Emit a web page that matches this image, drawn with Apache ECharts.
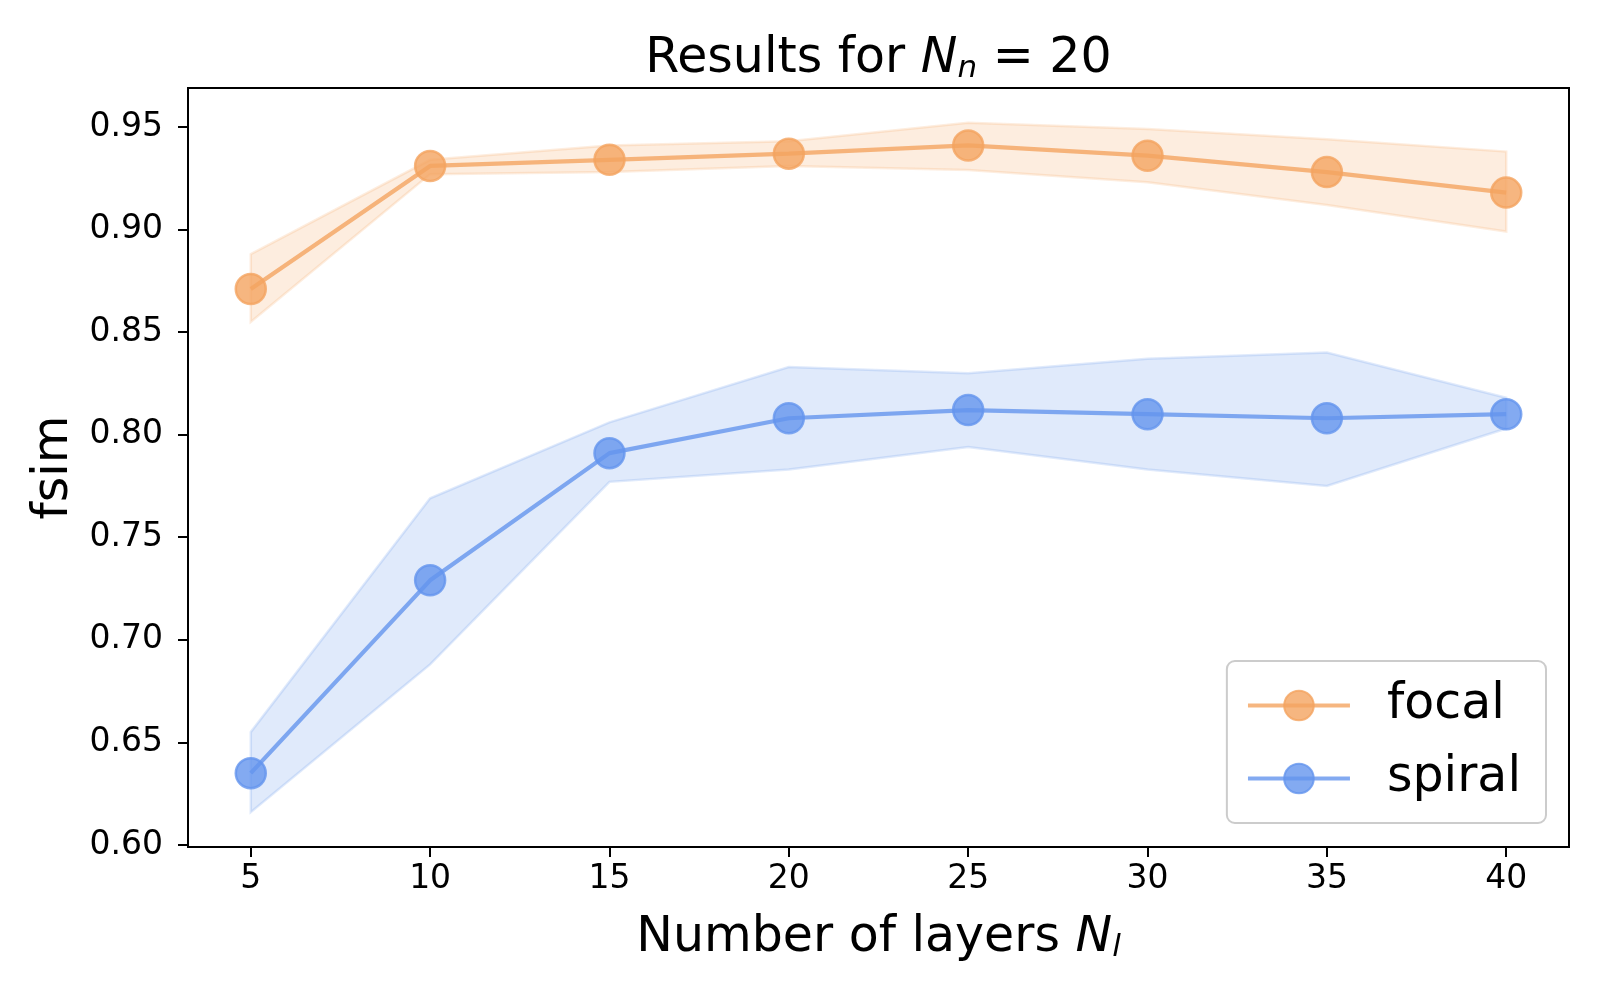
<!DOCTYPE html>
<html>
<head>
<meta charset="utf-8">
<script src="https://cdn.jsdelivr.net/npm/echarts@6/dist/echarts.min.js"></script>
<style>
  html, body { margin: 0; padding: 0; background: #ffffff; }
  #chart { width: 1600px; height: 1000px; }
</style>
</head>
<body>
<div id="chart"></div>
<script>
// ---- data ----
const layers = [5, 10, 15, 20, 25, 30, 35, 40];
const xTicks = [5, 10, 15, 20, 25, 30, 35, 40];
const yTicks = [0.60, 0.65, 0.70, 0.75, 0.80, 0.85, 0.90, 0.95];

const focalMean  = [0.871, 0.931, 0.934, 0.937, 0.941, 0.936, 0.928, 0.918];
const focalLower = [0.855, 0.927, 0.928, 0.931, 0.929, 0.923, 0.912, 0.899];
const focalUpper = [0.888, 0.934, 0.941, 0.943, 0.952, 0.949, 0.944, 0.938];

const spiralMean  = [0.635, 0.729, 0.791, 0.808, 0.812, 0.810, 0.808, 0.810];
const spiralLower = [0.616, 0.688, 0.777, 0.783, 0.794, 0.783, 0.775, 0.803];
const spiralUpper = [0.655, 0.769, 0.806, 0.833, 0.830, 0.837, 0.840, 0.818];

const seriesNames = ['focal', 'spiral'];

// ---- styling ----
const FONT = 'DejaVu Sans';
const ORANGE = [244, 164, 96];
const BLUE = [100, 149, 237];
const rgba = (c, a) => `rgba(${c[0]},${c[1]},${c[2]},${a})`;

function bandSeries(name, lower, upper, col) {
  return {
    type: 'custom',
    name: name + ' band',
    silent: true,
    z: 1,
    data: layers.map((x, i) => [x, lower[i], upper[i]]),
    encode: { x: 0, y: [1, 2] },
    renderItem: function (params, api) {
      if (params.dataIndex !== 0) return null;
      const pts = [];
      for (let i = 0; i < layers.length; i++) pts.push(api.coord([layers[i], upper[i]]));
      for (let i = layers.length - 1; i >= 0; i--) pts.push(api.coord([layers[i], lower[i]]));
      return {
        type: 'polygon',
        shape: { points: pts },
        style: { fill: rgba(col, 0.2), stroke: rgba(col, 0.2), lineWidth: 2.5 }
      };
    }
  };
}

function lineSeries(name, mean, col) {
  return {
    type: 'line',
    name: name,
    z: 3,
    data: layers.map((x, i) => [x, mean[i]]),
    symbol: 'circle',
    symbolSize: 30,
    showAllSymbol: true,
    lineStyle: { color: rgba(col, 0.8), width: 4.2 },
    itemStyle: { color: rgba(col, 0.8), borderColor: rgba(col, 0.8), borderWidth: 2.5 },
    emphasis: { disabled: true },
    animation: false
  };
}

const chart = echarts.init(document.getElementById('chart'), null, { renderer: 'canvas' });

const sub = { fontFamily: FONT, fontSize: 31, fontStyle: 'italic', color: '#000', verticalAlign: 'bottom', lineHeight: 8 };

const option = {
  backgroundColor: '#ffffff',
  animation: false,
  textStyle: { fontFamily: FONT },
  title: {
    text: '{r|Results for }{n|N}{s|n}{r| = 20}',
    left: 878.5,
    top: 35,
    padding: 0,
    textAlign: 'center',
    textStyle: {
      fontFamily: FONT,
      fontWeight: 'normal',
      fontSize: 49,
      color: '#000',
      rich: {
        r: { fontFamily: FONT, fontSize: 49, color: '#000' },
        n: { fontFamily: FONT, fontSize: 49, fontStyle: 'italic', color: '#000' },
        s: sub
      }
    }
  },
  grid: {
    left: 188, right: 31, top: 88, bottom: 153,
    show: true,
    borderColor: '#000',
    borderWidth: 2,
    backgroundColor: 'transparent'
  },
  legend: {
    data: seriesNames,
    orient: 'vertical',
    right: 54,
    bottom: 177,
    padding: [20, 25, 20, 19],
    itemWidth: 102,
    itemHeight: 37,
    itemGap: 24,
    backgroundColor: 'rgba(255,255,255,0.8)',
    borderColor: '#cccccc',
    borderWidth: 2,
    borderRadius: 8,
    selectedMode: false,
    lineStyle: { width: 4.2 },
    textStyle: { fontFamily: FONT, fontSize: 49, color: '#000', padding: [0, 0, 0, 32] }
  },
  xAxis: {
    type: 'value',
    min: 3.25,
    max: 41.75,
    name: '{r|Number of layers }{n|N}{s|l}',
    nameLocation: 'middle',
    nameGap: 67,
    nameTextStyle: {
      fontFamily: FONT, fontSize: 49, color: '#000',
      rich: {
        r: { fontFamily: FONT, fontSize: 49, color: '#000' },
        n: { fontFamily: FONT, fontSize: 49, fontStyle: 'italic', color: '#000' },
        s: sub
      }
    },
    axisLine: { show: false },
    splitLine: { show: false },
    axisTick: { show: true, inside: false, length: 10, lineStyle: { color: '#000', width: 2 }, customValues: xTicks },
    axisLabel: {
      customValues: xTicks,
      fontFamily: FONT, fontSize: 33, color: '#000', margin: 16,
      formatter: v => String(v)
    }
  },
  yAxis: {
    type: 'value',
    min: 0.599,
    max: 0.969,
    name: 'fsim',
    nameLocation: 'middle',
    nameRotate: 90,
    nameGap: 107,
    nameTextStyle: { fontFamily: FONT, fontSize: 49, color: '#000' },
    axisLine: { show: false },
    splitLine: { show: false },
    axisTick: { show: true, inside: false, length: 10, lineStyle: { color: '#000', width: 2 }, customValues: yTicks },
    axisLabel: {
      customValues: yTicks,
      fontFamily: FONT, fontSize: 33, color: '#000', margin: 25,
      formatter: v => v.toFixed(2)
    }
  },
  series: [
    bandSeries('focal', focalLower, focalUpper, ORANGE),
    bandSeries('spiral', spiralLower, spiralUpper, BLUE),
    lineSeries('focal', focalMean, ORANGE),
    lineSeries('spiral', spiralMean, BLUE)
  ]
};

chart.setOption(option);
</script>
</body>
</html>
